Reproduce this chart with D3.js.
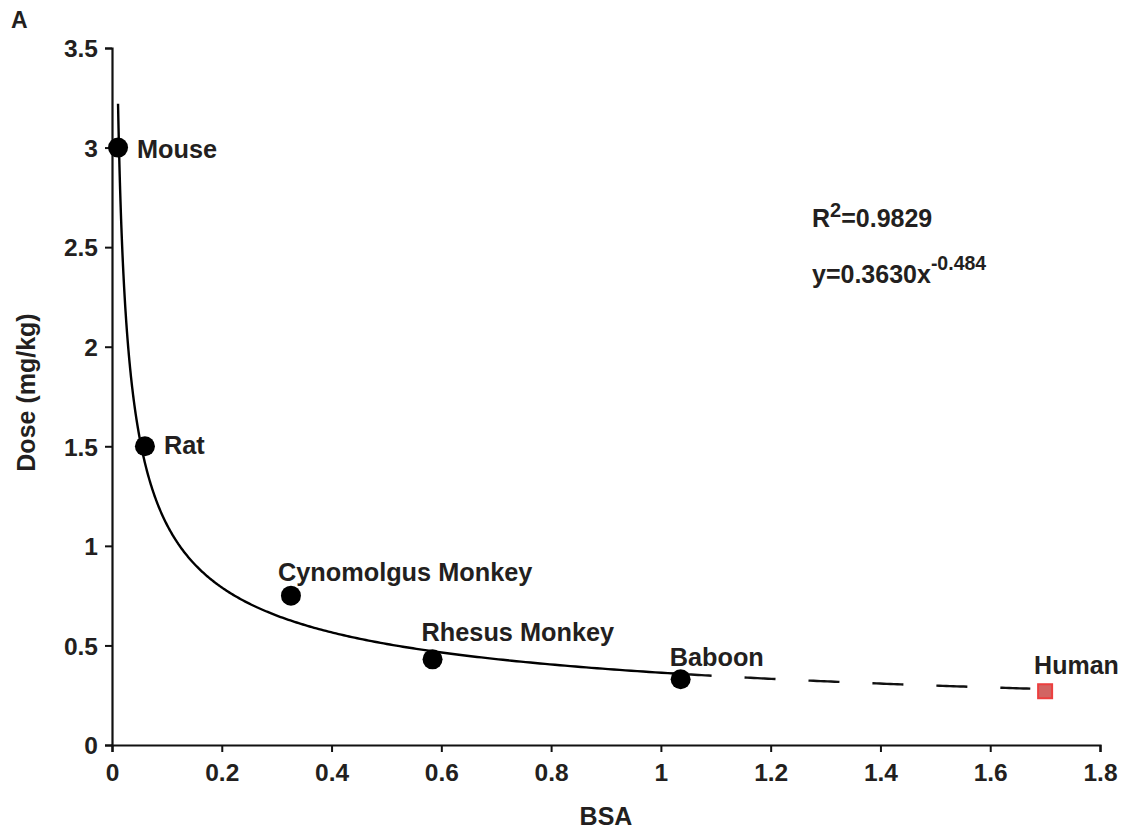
<!DOCTYPE html>
<html>
<head>
<meta charset="utf-8">
<script src="https://cdn.jsdelivr.net/npm/d3@7"></script>
<style>
  html, body { margin: 0; padding: 0; background: #fff; }
  svg { display: block; }
  text { font-family: "Liberation Sans", Arial, Helvetica, sans-serif; font-weight: bold; fill: #231f20; }
</style>
</head>
<body>
<svg id="chart" width="1124" height="831"></svg>
<script>
// Species, body surface area (BSA) and dose (mg/kg)
const species = ["Mouse", "Rat", "Cynomolgus Monkey", "Rhesus Monkey", "Baboon"];
const bsa     = [0.011, 0.060, 0.326, 0.584, 1.036];
const dose    = [3.0, 1.5, 0.75, 0.43, 0.33];

// Extrapolated human point
const humanLabel = "Human";
const humanBsa   = 1.70;
const humanDose  = 0.27;

// Power-law fit y = a * x^b
const fitA = 0.3630;
const fitB = -0.484;
const fitR2 = "0.9829";
const fitStart = 0.011;   // first BSA of the drawn curve
const fitEnd   = 1.673;   // last BSA of the dashed extrapolation

// Axis ticks
const xTicks = [0, 0.2, 0.4, 0.6, 0.8, 1, 1.2, 1.4, 1.6, 1.8];
const yTicks = [0, 0.5, 1, 1.5, 2, 2.5, 3, 3.5];

const svg = d3.select("#chart");
const margin = { left: 112, right: 24, top: 48, bottom: 86 };
const W = 1124, H = 831;

const x = d3.scaleLinear().domain([0, 1.8]).range([margin.left, W - margin.right]);
const y = d3.scaleLinear().domain([0, 3.5]).range([H - margin.bottom, margin.top]);

// Axes
const xAxis = svg.append("g")
  .attr("transform", `translate(0,${y(0)})`)
  .call(d3.axisBottom(x).tickValues(xTicks).tickFormat(d3.format("")).tickSizeInner(7).tickSizeOuter(7).tickPadding(6));
const yAxis = svg.append("g")
  .attr("transform", `translate(${x(0)},0)`)
  .call(d3.axisLeft(y).tickValues(yTicks).tickFormat(d3.format("")).tickSizeInner(7).tickSizeOuter(7).tickPadding(7));

[xAxis, yAxis].forEach(g => {
  g.selectAll("path.domain").attr("stroke", "#111").attr("stroke-width", 2.2);
  g.selectAll(".tick line").attr("stroke", "#111").attr("stroke-width", 2);
  g.selectAll(".tick text").style("font-size", "24.5px").style("font-family", '"Liberation Sans", Arial, sans-serif')
    .style("font-weight", "bold").attr("fill", "#111");
});
yAxis.selectAll(".tick text").attr("dy", "0.36em");
xAxis.selectAll(".tick text").attr("dy", "0.92em");

// Axis titles
svg.append("text")
  .attr("x", x(0.9)).attr("y", 825)
  .attr("text-anchor", "middle").style("font-size", "25px").attr("fill", "#111")
  .text("BSA");
svg.append("text")
  .attr("transform", `translate(35,${y(1.77)}) rotate(-90)`)
  .attr("text-anchor", "middle").style("font-size", "25px").attr("fill", "#111")
  .text("Dose (mg/kg)");

// Panel letter
svg.append("text").attr("x", 11).attr("y", 28).style("font-size", "23px").attr("fill", "#111").text("A");

// Fitted curve: solid over the measured range, dashed beyond it
const fit = v => fitA * Math.pow(v, fitB);
const line = d3.line().x(d => x(d)).y(d => y(fit(d))).curve(d3.curveLinear);
const lastBsa = bsa[bsa.length - 1];
const solidPts = d3.range(0, 401).map(i => fitStart * Math.pow(lastBsa / fitStart, i / 400));
const dashPts = d3.range(0, 101).map(i => lastBsa + (fitEnd - lastBsa) * i / 100);

svg.append("path").datum(solidPts)
  .attr("d", line).attr("fill", "none").attr("stroke", "#000").attr("stroke-width", 2.4);
svg.append("path").datum(dashPts)
  .attr("d", line).attr("fill", "none").attr("stroke", "#111").attr("stroke-width", 2.4)
  .attr("stroke-dasharray", "31,33");

// Animal points
const pts = species.map((s, i) => ({ name: s, bsa: bsa[i], dose: dose[i] }));
svg.append("g").selectAll("circle").data(pts).join("circle")
  .attr("cx", d => x(d.bsa)).attr("cy", d => y(d.dose)).attr("r", 10).attr("fill", "#000");

// Point labels
const labelOffset = {
  "Mouse": [19, 10],
  "Rat": [19, 8],
  "Cynomolgus Monkey": [-13, -15],
  "Rhesus Monkey": [-11, -18],
  "Baboon": [-11, -13]
};
svg.append("g").selectAll("text").data(pts).join("text")
  .attr("x", d => x(d.bsa) + labelOffset[d.name][0])
  .attr("y", d => y(d.dose) + labelOffset[d.name][1])
  .style("font-size", "25.3px")
  .text(d => d.name);

// Human point
const hs = 14;
svg.append("rect")
  .attr("x", x(humanBsa) - hs / 2).attr("y", y(humanDose) - hs / 2)
  .attr("width", hs).attr("height", hs)
  .attr("fill", "#d26462").attr("stroke", "#ec3f3f").attr("stroke-width", 2);
svg.append("text")
  .attr("x", x(humanBsa) - 11).attr("y", y(humanDose) - 17)
  .style("font-size", "25px").text(humanLabel);

// Fit annotation
const r2 = svg.append("text").attr("x", 812).attr("y", 227).style("font-size", "25px");
r2.append("tspan").text("R");
r2.append("tspan").attr("dy", -10).style("font-size", "20px").text("2");
r2.append("tspan").attr("dy", 10).text("=" + fitR2);

const eq = svg.append("text").attr("x", 812).attr("y", 283).style("font-size", "25px");
eq.append("tspan").text("y=" + fitA.toFixed(4) + "x");
eq.append("tspan").attr("dy", -13).style("font-size", "19.5px").text(String(fitB));
</script>
</body>
</html>
